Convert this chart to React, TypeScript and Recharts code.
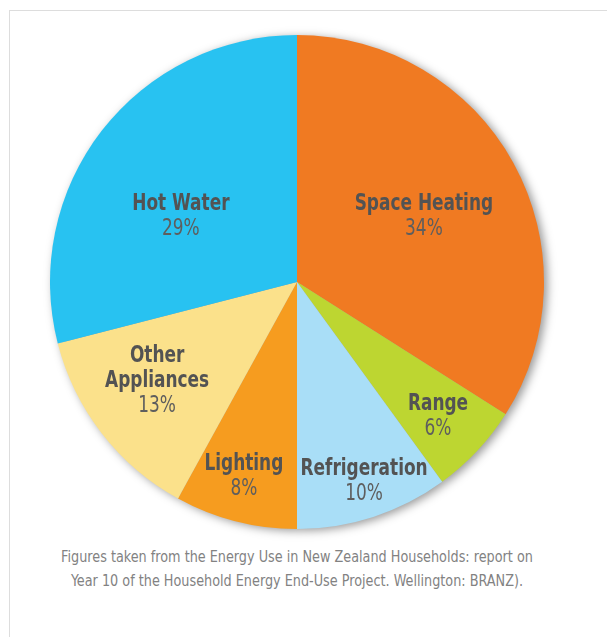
import { Cell, Pie, PieChart } from 'recharts';

const categories = ['Space Heating', 'Range', 'Refrigeration', 'Lighting', 'Other Appliances', 'Hot Water'];
const shares = [34, 6, 10, 8, 13, 29];
const sliceColors = ['#F07A22', '#BDD631', '#A9DEF7', '#F69C1F', '#FBE18B', '#28C2F1'];
const footnoteLines = [
  'Figures taken from the Energy Use in New Zealand Households: report on',
  'Year 10 of the Household Energy End-Use Project. Wellington: BRANZ).',
];

const data = categories.map((name, i) => ({ name, value: shares[i] }));

// label placement: fraction of radius + small angular nudge (deg, clockwise)
const labelSpot: Record<string, [number, number]> = {
  'Space Heating': [0.583, 0.6],
  Range: [0.782, -0.1],
  Refrigeration: [0.843, -0.8],
  Lighting: [0.805, 1.1],
  'Other Appliances': [0.688, 3.2],
  'Hot Water': [0.545, -7.4],
};

const labelWrap: Record<string, string[]> = {
  'Other Appliances': ['Other', 'Appliances'],
};

const FONT = '"DejaVu Sans Condensed", "Liberation Sans Narrow", sans-serif';
const RAD = Math.PI / 180;

const SliceLabel = (props: any) => {
  const { cx, cy, midAngle, outerRadius, name, value } = props;
  const [depth, nudge] = labelSpot[name] ?? [0.6, 0];
  const theta = (90 - midAngle + nudge) * RAD;
  const r = outerRadius * depth;
  const x = cx + r * Math.sin(theta);
  const y = cy - r * Math.cos(theta);
  const lines = labelWrap[name] ?? [name];
  const n = lines.length + 1;
  const lineH = 25;
  const base = (i: number) => y + (i - (n - 1) / 2) * lineH + 8.5;
  return (
    <g transform={`translate(${x},0) scale(0.82,1) translate(${-x},0)`}>
      <text textAnchor="middle" fontFamily={FONT} fontSize={23} fill="#535353">
        {lines.map((l, i) => (
          <tspan key={l} x={x} y={base(i)} fontWeight="bold">
            {l}
          </tspan>
        ))}
        <tspan x={x} y={base(lines.length)} fill="#5e5e5e">
          {value}%
        </tspan>
      </text>
    </g>
  );
};

export default function App() {
  return (
    <div style={{ position: 'absolute', left: 0, top: 0, width: 607, height: 637, overflow: 'hidden', background: '#fff' }}>
      <style>{'.pie-shadow { filter: blur(3px); }'}</style>
      <div
        style={{
          position: 'absolute',
          left: 9,
          top: 10,
          width: 620,
          height: 650,
          borderTop: '1px solid #ddd',
          borderLeft: '1px solid #ddd',
        }}
      />
      <div style={{ position: 'absolute', left: 0, top: 0 }}>
        <PieChart width={607} height={545}>
          <Pie
            className="pie-shadow"
            data={data}
            dataKey="value"
            cx={295.5}
            cy={279}
            outerRadius={247}
            startAngle={90}
            endAngle={-270}
            stroke="none"
            fill="rgba(0,0,0,0.4)"
            isAnimationActive={false}
          />
          <Pie
            data={data}
            dataKey="value"
            nameKey="name"
            cx={292}
            cy={277}
            outerRadius={247}
            startAngle={90}
            endAngle={-270}
            stroke="none"
            label={SliceLabel}
            labelLine={false}
            isAnimationActive={false}
          >
            {data.map((d, i) => (
              <Cell key={d.name} fill={sliceColors[i]} />
            ))}
          </Pie>
        </PieChart>
      </div>
      <div
        style={{
          position: 'absolute',
          left: 0,
          top: 545,
          width: 594,
          textAlign: 'center',
          fontFamily: FONT,
          fontSize: 15,
          lineHeight: '24px',
          color: '#828282',
          transform: 'scaleX(0.95)',
          transformOrigin: '297px 0',
        }}
      >
        {footnoteLines.map((l) => (
          <div key={l}>{l}</div>
        ))}
      </div>
    </div>
  );
}
